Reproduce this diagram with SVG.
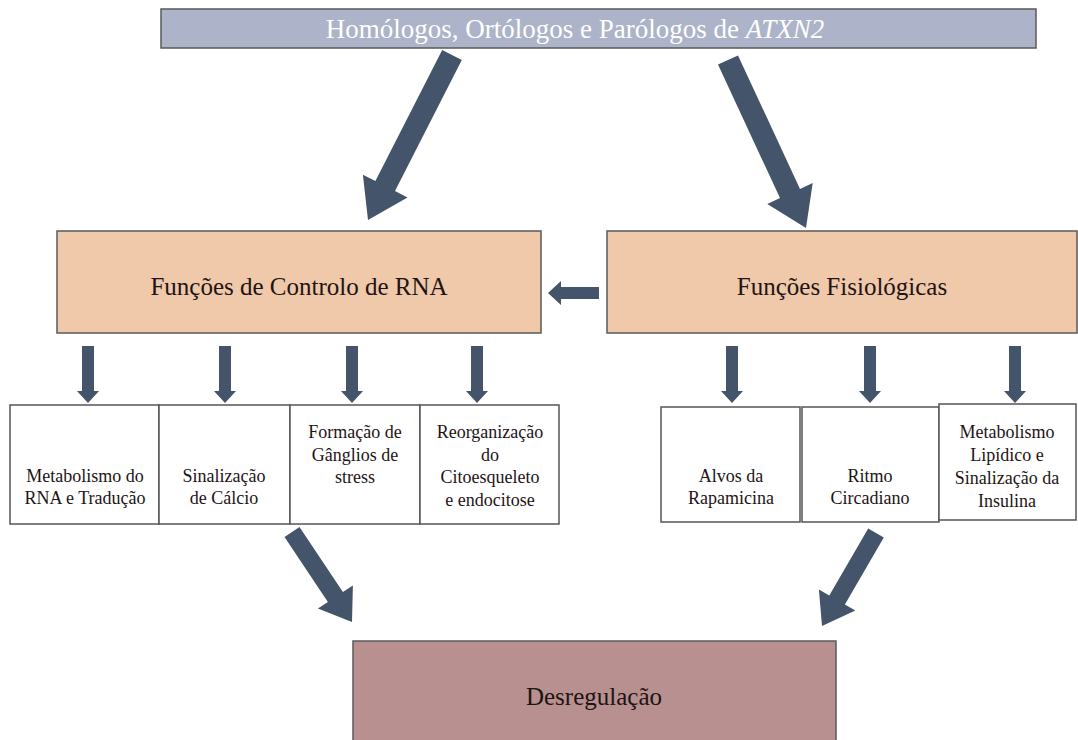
<svg xmlns="http://www.w3.org/2000/svg" xmlns:xlink="http://www.w3.org/1999/xlink" width="1078" height="740" viewBox="0 0 1078 740">
  <style>
    .box { stroke: #5a5a5a; stroke-width: 1.5; }
    .small { fill: #ffffff; stroke: #555555; stroke-width: 1.5; }
    .t { font-family: "Liberation Serif", "Times New Roman", serif; fill: #1e1414; text-anchor: middle; }
    .big { font-size: 25px; }
    .sm { font-size: 18px; }
    .arrow { fill: #44546a; }
  </style>
  <defs>
    <path id="down" d="M-6,0 H6 V45 H11 L0,57 L-11,45 H-6 Z"/>
  </defs>
  <rect width="1078" height="740" fill="#ffffff"/>

  <g id="top">
    <rect class="box" x="161" y="9" width="875" height="39" fill="#adb3c9"/>
    <text class="t" x="575" y="38" font-size="27" style="fill:#ffffff">Homólogos, Ortólogos e Parólogos de <tspan font-style="italic">ATXN2</tspan></text>
  </g>

  <g id="rna">
    <rect class="box" x="57" y="231" width="484" height="102" fill="#f0c8aa"/>
    <text class="t big" x="299" y="295">Funções de Controlo de RNA</text>
  </g>

  <g id="fisio">
    <rect class="box" x="607" y="231" width="470" height="102" fill="#f0c8aa"/>
    <text class="t big" x="842" y="295">Funções Fisiológicas</text>
  </g>

  <g id="metab-rna">
    <rect class="small" x="10" y="405" width="149" height="119"/>
    <text class="t sm" x="85" y="482">Metabolismo do</text>
    <text class="t sm" x="85" y="504">RNA e Tradução</text>
  </g>
  <g id="calcio">
    <rect class="small" x="159" y="405" width="131" height="119"/>
    <text class="t sm" x="224" y="482">Sinalização</text>
    <text class="t sm" x="224" y="504">de Cálcio</text>
  </g>
  <g id="stress">
    <rect class="small" x="290" y="405" width="130" height="119"/>
    <text class="t sm" x="355" y="438">Formação de</text>
    <text class="t sm" x="355" y="461">Gânglios de</text>
    <text class="t sm" x="355" y="483">stress</text>
  </g>
  <g id="citoesqueleto">
    <rect class="small" x="420" y="405" width="139" height="119"/>
    <text class="t sm" x="490" y="438">Reorganização</text>
    <text class="t sm" x="490" y="461">do</text>
    <text class="t sm" x="490" y="483">Citoesqueleto</text>
    <text class="t sm" x="490" y="506">e endocitose</text>
  </g>

  <g id="rapamicina">
    <rect class="small" x="661" y="407" width="139" height="115"/>
    <text class="t sm" x="731" y="482">Alvos da</text>
    <text class="t sm" x="731" y="504">Rapamicina</text>
  </g>
  <g id="circadiano">
    <rect class="small" x="802" y="407" width="137" height="115"/>
    <text class="t sm" x="870" y="482">Ritmo</text>
    <text class="t sm" x="870" y="504">Circadiano</text>
  </g>
  <g id="insulina">
    <rect class="small" x="939" y="404" width="137" height="116"/>
    <text class="t sm" x="1007" y="438">Metabolismo</text>
    <text class="t sm" x="1007" y="461">Lipídico e</text>
    <text class="t sm" x="1007" y="484">Sinalização da</text>
    <text class="t sm" x="1007" y="507">Insulina</text>
  </g>

  <g id="desregulacao">
    <rect class="box" x="353" y="641" width="483" height="110" fill="#b89090"/>
    <text class="t big" x="594" y="705">Desregulação</text>
  </g>

  <g id="connectors" class="arrow">
    <polygon points="442.2,50.0 375.4,181.1 362.9,174.8 368,220 407.5,197.4 395.0,191.1 461.8,60.0"/>
    <polygon points="738.0,55.4 800.0,188.9 812.7,183.0 806,228 767.3,204.0 780.0,198.1 718.0,64.6"/>
    <polygon points="599,287 561,287 561,281 548,293 561,305 561,299 599,299"/>
    <use xlink:href="#down" x="88" y="346"/>
    <use xlink:href="#down" x="225" y="346"/>
    <use xlink:href="#down" x="352" y="346"/>
    <use xlink:href="#down" x="477" y="346"/>
    <use xlink:href="#down" x="732" y="346"/>
    <use xlink:href="#down" x="870" y="346"/>
    <use xlink:href="#down" x="1015" y="346"/>
    <polygon points="299.5,527.0 342.9,592.0 352.9,585.4 352,622 317.9,608.6 327.9,602.0 284.5,537.0"/>
    <polygon points="883.8,537.5 844.9,604.5 855.3,610.5 822,626 818.9,589.5 829.3,595.5 868.2,528.5"/>
  </g>
</svg>
